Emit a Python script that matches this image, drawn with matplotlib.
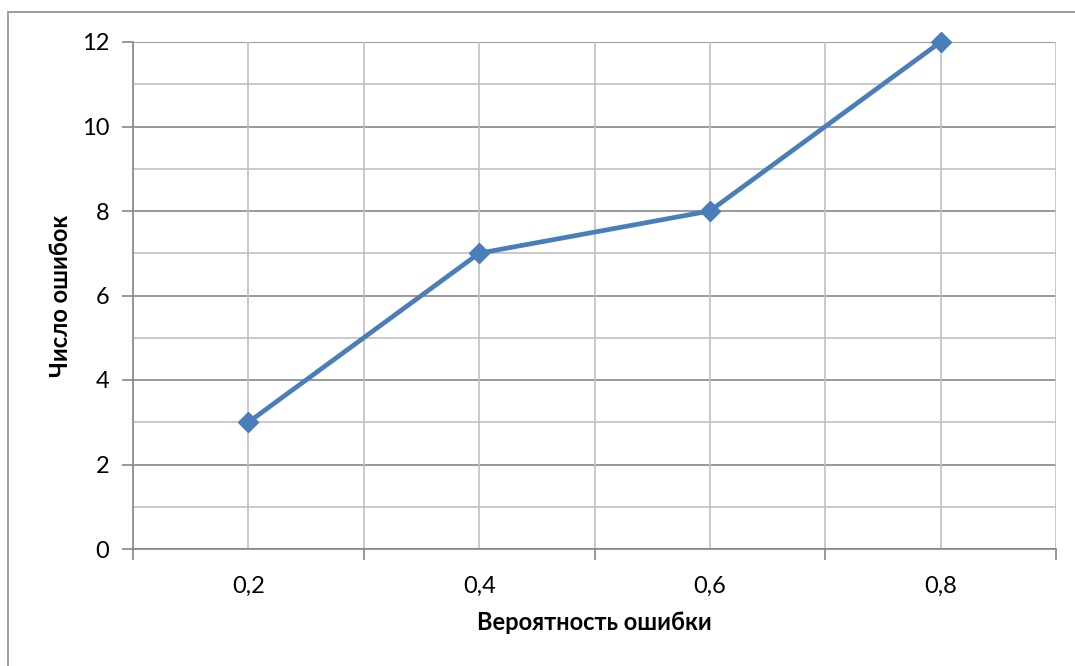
import numpy as np
import matplotlib.pyplot as plt
from matplotlib.patches import Rectangle

# chart data
categories = ['0,2', '0,4', '0,6', '0,8']
errors = [3, 7, 8, 12]

plt.rcParams['font.family'] = ['Lato', 'DejaVu Sans']

fig = plt.figure(figsize=(10.75, 6.66), dpi=100)
W, H = 1075, 666
ax = fig.add_axes([133 / W, 1 - 549 / H, (1056 - 133) / W, (549 - 42) / H])

# chart area frame
fig.patches.append(Rectangle((8 / W, -0.05), 1.1, 1 - 12 / H + 0.05,
                             transform=fig.transFigure, fill=False,
                             edgecolor='#8c8c8c', linewidth=1.2))

x = np.arange(len(categories))
ax.plot(x, errors, color='#4a7ebb', linewidth=3.4, marker='D',
        markersize=10.5, markeredgecolor='#4a7ebb', zorder=5, clip_on=False)

ax.set_xlim(-0.5, len(categories) - 0.5)
ax.set_ylim(0, 12)

# horizontal grid: major every 2, minor on odd values
for v in range(0, 13):
    if v % 2 == 0:
        ax.axhline(v, color='#878787', linewidth=1.2, zorder=1)
    else:
        ax.axhline(v, color='#c0c0c0', linewidth=1.2, zorder=1)
# vertical grid at centers and boundaries
for v in np.arange(-0.5, len(categories), 0.5):
    ax.axvline(v, color='#c0c0c0', linewidth=1.2, zorder=1)

ax.set_yticks(range(0, 13, 2))
ax.set_xticks(x)
ax.set_xticklabels(categories)
ax.set_xticks(np.arange(-0.5, len(categories), 1.0), minor=True)
ax.tick_params(axis='y', length=8, width=1.2, color='#878787',
               labelsize=17, pad=9)
ax.tick_params(axis='x', which='major', length=0, labelsize=17, pad=19)
ax.tick_params(axis='x', which='minor', length=8, width=1.2, color='#878787')

for s in ['top', 'right']:
    ax.spines[s].set_visible(False)
ax.spines['left'].set_color('#878787')
ax.spines['left'].set_linewidth(1.2)
ax.spines['bottom'].set_color('#878787')
ax.spines['bottom'].set_linewidth(1.2)

ax.set_xlabel('Вероятность ошибки', fontsize=17, fontweight='bold')
ax.set_ylabel('Число ошибок', fontsize=17, fontweight='bold')
ax.xaxis.set_label_coords(0.5, (549 - 623) / 507, transform=ax.transAxes)
ax.xaxis.label.set_va('center')
ax.yaxis.set_label_coords((60 - 133) / 923, 0.5, transform=ax.transAxes)
ax.yaxis.label.set_va('center')

fig.savefig('out.png', dpi=100)
